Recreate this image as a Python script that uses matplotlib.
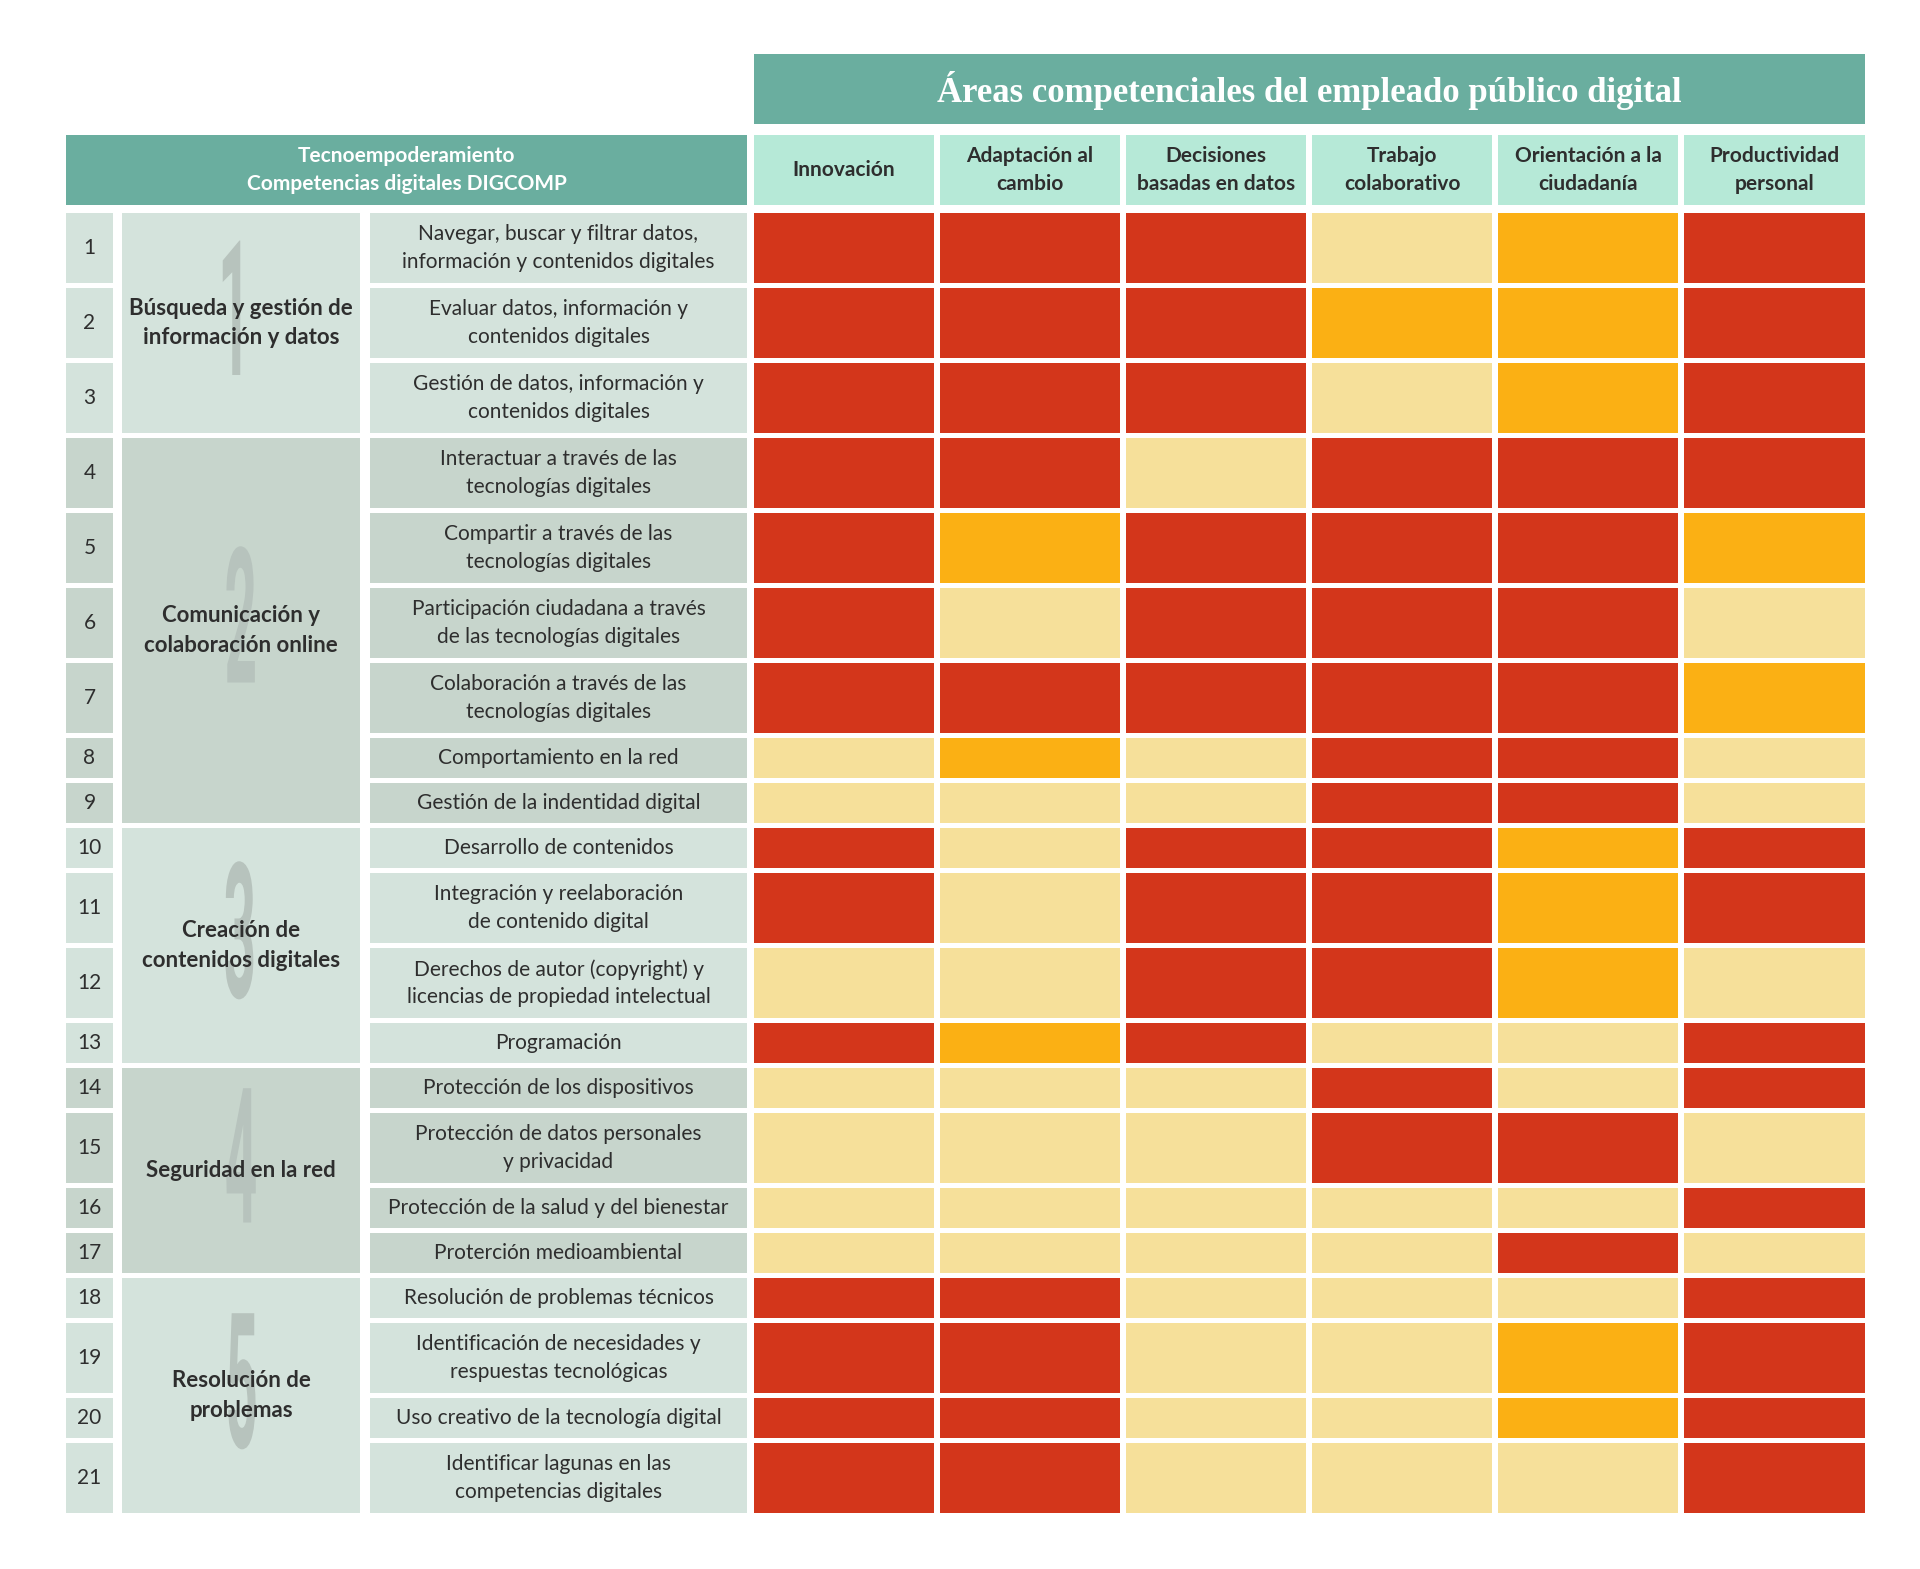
import matplotlib
matplotlib.use("Agg")
import matplotlib.pyplot as plt
from matplotlib.colors import ListedColormap, BoundaryNorm
from matplotlib.patches import Rectangle
from matplotlib.patheffects import AbstractPathEffect
from matplotlib.transforms import Affine2D
import numpy as np

# ---------------- data ----------------
title = "Áreas competenciales del empleado público digital"
left_header = "Tecnoempoderamiento\nCompetencias digitales DIGCOMP"

areas = ["Innovación", "Adaptación al\ncambio", "Decisiones\nbasadas en datos",
         "Trabajo\ncolaborativo", "Orientación a la\nciudadanía", "Productividad\npersonal"]

group_names = ["Búsqueda y gestión de\ninformación y datos",
               "Comunicación y\ncolaboración online",
               "Creación de\ncontenidos digitales",
               "Seguridad en la red",
               "Resolución de\nproblemas"]
group_numbers = ["1", "2", "3", "4", "5"]
group_sizes = [3, 6, 4, 4, 4]

competencias = [
    "Navegar, buscar y filtrar datos,\ninformación y contenidos digitales",
    "Evaluar datos, información y\ncontenidos digitales",
    "Gestión de datos, información y\ncontenidos digitales",
    "Interactuar a través de las\ntecnologías digitales",
    "Compartir a través de las\ntecnologías digitales",
    "Participación ciudadana a través\nde las tecnologías digitales",
    "Colaboración a través de las\ntecnologías digitales",
    "Comportamiento en la red",
    "Gestión de la indentidad digital",
    "Desarrollo de contenidos",
    "Integración y reelaboración\nde contenido digital",
    "Derechos de autor (copyright) y\nlicencias de propiedad intelectual",
    "Programación",
    "Protección de los dispositivos",
    "Protección de datos personales\ny privacidad",
    "Protección de la salud y del bienestar",
    "Proterción medioambiental",
    "Resolución de problemas técnicos",
    "Identificación de necesidades y\nrespuestas tecnológicas",
    "Uso creativo de la tecnología digital",
    "Identificar lagunas en las\ncompetencias digitales",
]

# relevance level: 3 = high (red), 2 = medium (orange), 1 = low (pale)
relevance = np.array([
    [3, 3, 3, 1, 2, 3],
    [3, 3, 3, 2, 2, 3],
    [3, 3, 3, 1, 2, 3],
    [3, 3, 1, 3, 3, 3],
    [3, 2, 3, 3, 3, 2],
    [3, 1, 3, 3, 3, 1],
    [3, 3, 3, 3, 3, 2],
    [1, 2, 1, 3, 3, 1],
    [1, 1, 1, 3, 3, 1],
    [3, 1, 3, 3, 2, 3],
    [3, 1, 3, 3, 2, 3],
    [1, 1, 3, 3, 2, 1],
    [3, 2, 3, 1, 1, 3],
    [1, 1, 1, 3, 1, 3],
    [1, 1, 1, 3, 3, 1],
    [1, 1, 1, 1, 1, 3],
    [1, 1, 1, 1, 3, 1],
    [3, 3, 1, 1, 1, 3],
    [3, 3, 1, 1, 2, 3],
    [3, 3, 1, 1, 2, 3],
    [3, 3, 1, 1, 1, 3],
])

# ---------------- style ----------------
TEAL = "#6AAE9F"
MINT = "#B6E9D7"
BG_LIGHT = "#D4E3DC"
BG_DARK = "#C7D5CC"
NUM_GRAY = "#B7C3BD"
TXT = "#2E2E2E"
cmap = ListedColormap(["#F6E09A", "#FBB014", "#D3361B"])
norm = BoundaryNorm([0.5, 1.5, 2.5, 3.5], cmap.N)

SANS = ["Lato", "DejaVu Sans"]
SERIF = ["Liberation Serif", "DejaVu Serif"]


class XSqueeze(AbstractPathEffect):
    """Narrow a text horizontally around its own centre (text stays a Text artist)."""
    def __init__(self, sx):
        super().__init__()
        self.sx = sx

    def draw_path(self, renderer, gc, tpath, affine, rgbFace=None):
        ext = tpath.get_extents(affine)
        cx = 0.5 * (ext.x0 + ext.x1)
        t = affine + Affine2D().translate(-cx, 0).scale(self.sx, 1).translate(cx, 0)
        renderer.draw_path(gc, tpath, t, rgbFace)


W, H = 1920, 1569
fig = plt.figure(figsize=(W / 100, H / 100), dpi=100)
ax = fig.add_axes([0, 0, 1, 1])
ax.set_xlim(0, W)
ax.set_ylim(H, 0)
ax.axis("off")

# layout (pixels)
num_x0, num_x1 = 66, 113
cat_x0, cat_x1 = 122, 360
desc_x0, desc_x1 = 370, 747
heat_x0 = 753.5
col_w = 180.5
col_pitch = 186.1
title_y0, title_y1 = 54, 124
head_y0, head_y1 = 135, 205
rows_y0 = 213
tall_h, short_h, gap = 70, 40, 5

n_rows = len(competencias)
heights = np.array([tall_h if "\n" in c else short_h for c in competencias], float)
tops = rows_y0 + np.concatenate([[0], np.cumsum(heights + gap)[:-1]])
centers = tops + heights / 2

# title bar
heat_x1 = heat_x0 + col_pitch * (len(areas) - 1) + col_w
ax.add_patch(Rectangle((heat_x0, title_y0), heat_x1 - heat_x0, title_y1 - title_y0,
                       color=TEAL, lw=0))
ax.text((heat_x0 + heat_x1) / 2, (title_y0 + title_y1) / 2 + 1, title,
        ha="center", va="center", color="white", fontsize=25, fontweight="bold",
        family=SERIF)

# left header
ax.add_patch(Rectangle((num_x0, head_y0), desc_x1 - num_x0, head_y1 - head_y0,
                       color=TEAL, lw=0))
ax.text((num_x0 + desc_x1) / 2, (head_y0 + head_y1) / 2, left_header,
        ha="center", va="center", color="white", fontsize=15, fontweight="bold",
        family=SANS, linespacing=1.5)

# area headers
col_x = heat_x0 + col_pitch * np.arange(len(areas))
for x, lab in zip(col_x, areas):
    ax.add_patch(Rectangle((x, head_y0), col_w, head_y1 - head_y0, color=MINT, lw=0))
    ax.text(x + col_w / 2, (head_y0 + head_y1) / 2, lab, ha="center", va="center",
            color=TXT, fontsize=15, fontweight="bold", family=SANS, linespacing=1.5)

# groups, numbers, descriptions
start = 0
for g, (gname, gnum, gsize) in enumerate(zip(group_names, group_numbers, group_sizes)):
    bg = BG_LIGHT if g % 2 == 0 else BG_DARK
    idx = list(range(start, start + gsize))
    gy0 = tops[idx[0]]
    gy1 = tops[idx[-1]] + heights[idx[-1]]
    ax.add_patch(Rectangle((cat_x0, gy0), cat_x1 - cat_x0, gy1 - gy0, color=bg, lw=0))
    gc = (gy0 + gy1) / 2
    ax.text((cat_x0 + cat_x1) / 2, gc, gnum, ha="center", va="center",
            color=NUM_GRAY, fontsize=136, fontweight="bold", family=["Roboto", "DejaVu Sans"],
            path_effects=[XSqueeze(0.3)], zorder=2)
    ax.text((cat_x0 + cat_x1) / 2, gc, gname, ha="center", va="center", color=TXT,
            fontsize=16, fontweight="bold", family=SANS, linespacing=1.5, zorder=3)
    for i in idx:
        ax.add_patch(Rectangle((num_x0, tops[i]), num_x1 - num_x0, heights[i], color=bg, lw=0))
        ax.add_patch(Rectangle((desc_x0, tops[i]), desc_x1 - desc_x0, heights[i], color=bg, lw=0))
        ax.text((num_x0 + num_x1) / 2, centers[i], str(i + 1), ha="center", va="center",
                color=TXT, fontsize=15, family=SANS)
        ax.text((desc_x0 + desc_x1) / 2, centers[i], competencias[i], ha="center",
                va="center", color=TXT, fontsize=15, family=SANS, linespacing=1.47)
    start += gsize

# heatmap cells
for j, x in enumerate(col_x):
    ax.bar(np.full(n_rows, x + col_w / 2), heights, bottom=tops, width=col_w,
           color=cmap(norm(relevance[:, j])), linewidth=0)

fig.savefig("out.png", dpi=100, facecolor="white")
